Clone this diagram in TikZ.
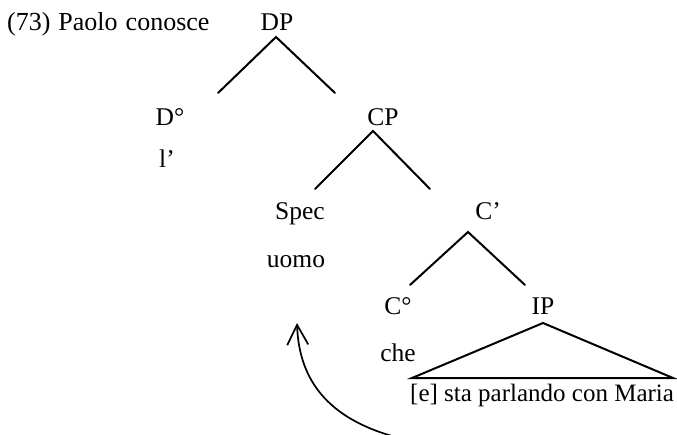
\documentclass[tikz,border=0pt]{standalone}
\usepackage{fontspec}
\setmainfont{Liberation Serif}
\usetikzlibrary{arrows.meta}
\begin{document}
\begin{tikzpicture}[x=1pt,y=-1pt,
  lbl/.style={anchor=base,inner sep=0pt,font=\fontsize{25.5}{30}\selectfont},
  branch/.style={line width=2pt,line cap=round},
  move/.style={line width=1.7pt,-{Straight Barb[length=20pt,width=21pt,line width=1.7pt]}}]
\useasboundingbox (0,0) rectangle (677,435);
% labels
\node[lbl,anchor=base west,font=\fontsize{26}{30}\selectfont] (ex) at (7,31) {\spaceskip=8pt (73) Paolo conosce};
\node[lbl] (DP) at (277,31) {DP};
\node[lbl] (D) at (170,126) {D\textdegree};
\node[lbl] (CP) at (383,126) {CP};
\node[lbl] (l) at (167,168) {l'};
\node[lbl] (Spec) at (300,220) {Spec};
\node[lbl] (Cbar) at (488,220) {C'};
\node[lbl] (uomo) at (296,268) {uomo};
\node[lbl] (C) at (398,315) {C\textdegree};
\node[lbl] (IP) at (543,315) {IP};
\node[lbl] (che) at (398,361) {che};
\node[lbl,anchor=base west,font=\fontsize{25}{30}\selectfont] (str) at (410,401) {[e] sta parlando con Maria};
% branch end points
\coordinate (dpa) at (276,37);
\coordinate (dpl) at (218,93);
\coordinate (dpr) at (335,93);
\coordinate (cpa) at (373,131);
\coordinate (cpl) at (315,189);
\coordinate (cpr) at (430,189);
\coordinate (cba) at (468,232);
\coordinate (cbl) at (410,285);
\coordinate (cbr) at (525,285);
\coordinate (ipa) at (543,323);
\coordinate (ipl) at (412,378);
\coordinate (ipr) at (673,378);
\coordinate (tr) at (392,436);
\coordinate (hd) at (297,323);
% tree
\draw[branch] (dpl) -- (dpa) -- (dpr);
\draw[branch] (cpl) -- (cpa) -- (cpr);
\draw[branch] (cbl) -- (cba) -- (cbr);
\draw[branch,line join=miter] (ipa) -- (ipl) -- (ipr) -- cycle;
% movement arrow
\draw[move] (tr) .. controls (330,418) and (299,382) .. (hd);
\end{tikzpicture}
\end{document}
